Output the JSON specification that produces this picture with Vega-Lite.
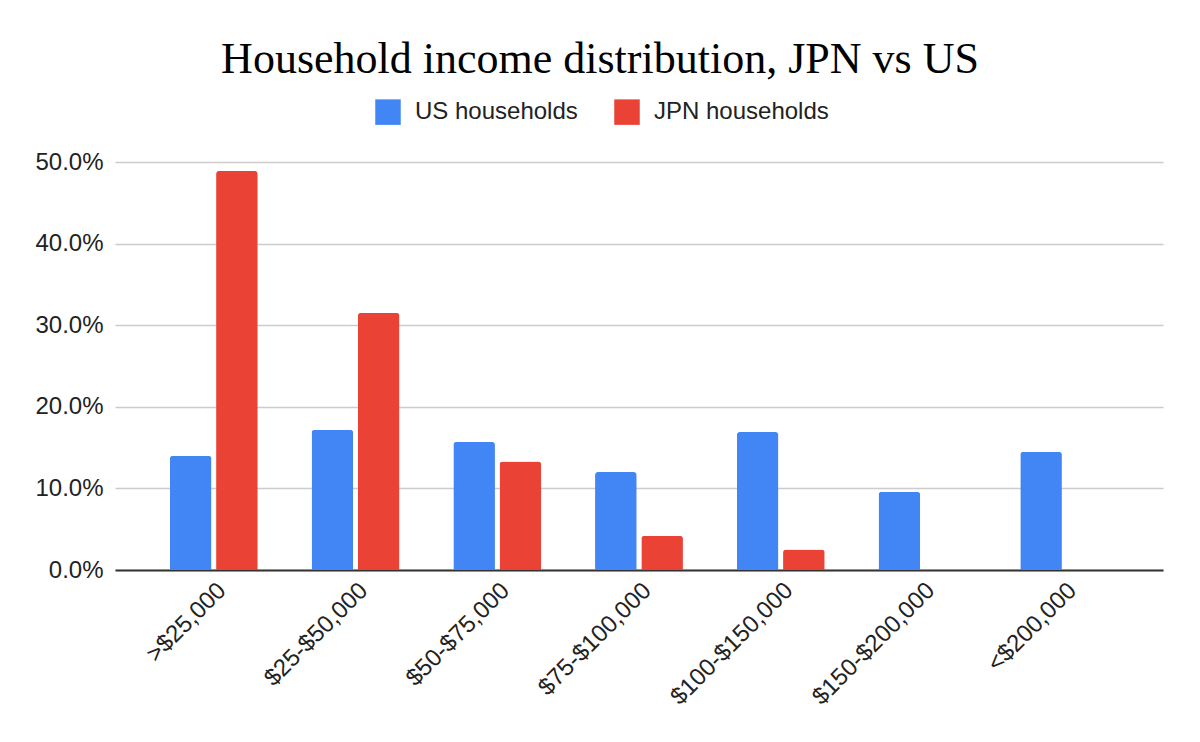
{
  "$schema": "https://vega.github.io/schema/vega-lite/v6.json",
  "autosize": {"type": "none"},
  "width": 1048,
  "height": 408,
  "padding": {"left": 115, "top": 162, "right": 37, "bottom": 172},
  "background": "white",
  "title": {
    "text": "Household income distribution, JPN vs US",
    "font": "Liberation Serif",
    "fontSize": 44,
    "fontWeight": "normal",
    "color": "#000000",
    "anchor": "middle",
    "dx": -39,
    "offset": 17
  },
  "data": {
    "values": [
      {"bracket": ">$25,000", "series": "US households", "share": 0.140},
      {"bracket": ">$25,000", "series": "JPN households", "share": 0.489},
      {"bracket": "$25-$50,000", "series": "US households", "share": 0.172},
      {"bracket": "$25-$50,000", "series": "JPN households", "share": 0.315},
      {"bracket": "$50-$75,000", "series": "US households", "share": 0.157},
      {"bracket": "$50-$75,000", "series": "JPN households", "share": 0.133},
      {"bracket": "$75-$100,000", "series": "US households", "share": 0.120},
      {"bracket": "$75-$100,000", "series": "JPN households", "share": 0.042},
      {"bracket": "$100-$150,000", "series": "US households", "share": 0.169},
      {"bracket": "$100-$150,000", "series": "JPN households", "share": 0.025},
      {"bracket": "$150-$200,000", "series": "US households", "share": 0.096},
      {"bracket": "$150-$200,000", "series": "JPN households", "share": 0},
      {"bracket": "<$200,000", "series": "US households", "share": 0.145},
      {"bracket": "<$200,000", "series": "JPN households", "share": 0}
    ]
  },
  "mark": {"type": "bar", "cornerRadiusEnd": 3},
  "encoding": {
    "x": {
      "field": "bracket",
      "type": "nominal",
      "sort": null,
      "scale": {"paddingInner": 0.38, "paddingOuter": 0.387},
      "axis": {
        "title": null,
        "labelAngle": -45,
        "labelFontSize": 24,
        "labelFont": "Liberation Sans",
        "labelColor": "#222222",
        "labelPadding": 8,
        "ticks": false,
        "domainColor": "#333333",
        "domainWidth": 2,
        "grid": false
      }
    },
    "xOffset": {
      "field": "series",
      "type": "nominal",
      "sort": ["US households", "JPN households"],
      "scale": {"paddingInner": 0.1}
    },
    "y": {
      "field": "share",
      "type": "quantitative",
      "scale": {"domain": [0, 0.5], "nice": false},
      "axis": {
        "title": null,
        "format": ".1%",
        "values": [0, 0.1, 0.2, 0.3, 0.4, 0.5],
        "labelFontSize": 24,
        "labelFont": "Liberation Sans",
        "labelColor": "#222222",
        "labelPadding": 12,
        "domain": false,
        "ticks": false,
        "gridColor": "#cccccc",
        "gridWidth": 1.5
      }
    },
    "color": {
      "field": "series",
      "type": "nominal",
      "sort": ["US households", "JPN households"],
      "scale": {"domain": ["US households", "JPN households"], "range": ["#4285F4", "#EA4335"]},
      "legend": {
        "title": null,
        "orient": "none",
        "direction": "horizontal",
        "legendX": 260,
        "legendY": -63,
        "symbolType": "square",
        "symbolSize": 650,
        "symbolStrokeWidth": 0,
        "labelFontSize": 24,
        "labelFont": "Liberation Sans",
        "labelColor": "#222222",
        "labelOffset": 14,
        "labelLimit": 400,
        "columnPadding": 36
      }
    }
  },
  "config": {"view": {"stroke": null}}
}
